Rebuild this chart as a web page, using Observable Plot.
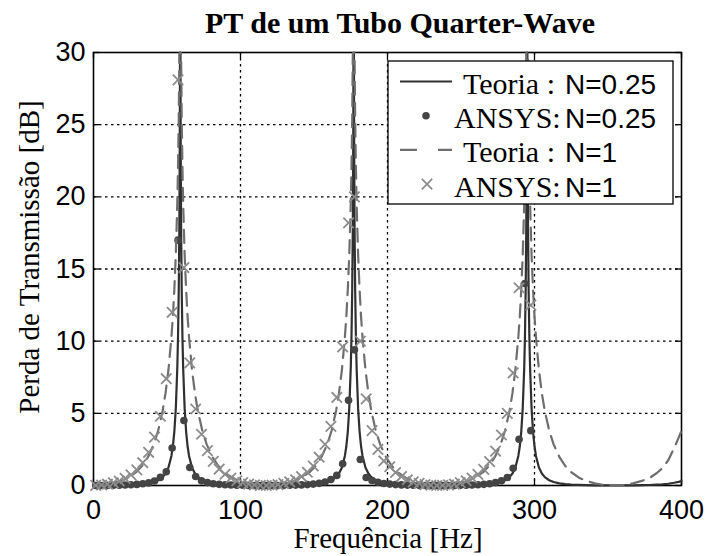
<!DOCTYPE html>
<html>
<head>
<meta charset="utf-8">
<script src="https://cdn.jsdelivr.net/npm/d3@7"></script>
<script src="https://cdn.jsdelivr.net/npm/@observablehq/plot@0.6"></script>
<style>
  html, body { margin: 0; padding: 0; background: #fff; }
  svg { display: block; }
</style>
</head>
<body>
<div id="chart"></div>
<script>
// ---------- data ----------
const titleText = "PT de um Tubo Quarter-Wave";
const xLabel = "Frequência [Hz]";
const yLabel = "Perda de Transmissão [dB]";

const xTicks = [0, 100, 200, 300, 400];
const yTicks = [0, 5, 10, 15, 20, 25, 30];

// Theory curves (Hz, dB)
const theoryFreq = [
  0, 7, 13, 19, 24, 29, 33, 37, 41, 44, 47, 49, 51, 53, 54, 55, 56, 57, 57.5, 58, 58.4, 58.7, 58.85, 59,
  59.15, 59.3, 59.6, 60, 60.5, 61, 62, 63, 64, 65, 67, 69, 71, 74, 77, 81, 85, 89, 94, 99, 105, 111, 118,
  125, 131, 137, 142, 147, 151, 155, 159, 162, 165, 167, 169, 171, 172, 173, 174, 175, 175.5, 176, 176.4, 176.7, 176.85, 177,
  177.15, 177.3, 177.6, 178, 178.5, 179, 180, 181, 182, 183, 185, 187, 189, 192, 195, 199, 203, 207, 212, 217, 223, 229, 236,
  243, 249, 255, 260, 265, 269, 273, 277, 280, 283, 285, 287, 289, 290, 291, 292, 293, 293.5, 294, 294.4, 294.7, 294.85, 295,
  295.15, 295.3, 295.6, 296, 296.5, 297, 298, 299, 300, 301, 303, 305, 307, 310, 313, 317, 321, 325, 330, 335, 341, 347, 354,
  361, 367, 373, 378, 383, 387, 391, 395, 398, 400
];
const theoryN025 = [
  0, 0.002, 0.009, 0.021, 0.037, 0.064, 0.097, 0.15, 0.24, 0.365, 0.58, 0.83, 1.25, 2.05, 2.72, 3.74, 5.36, 8.13, 10.3, 13.6, 17.9, 23.9, 29.9, 60,
  29.9, 23.9, 17.9, 13.6, 10.3, 8.13, 5.36, 3.74, 2.72, 2.05, 1.25, 0.83, 0.58, 0.365, 0.24, 0.15, 0.097, 0.064, 0.037, 0.021, 0.009, 0.002, 0,
  0.002, 0.009, 0.021, 0.037, 0.064, 0.097, 0.15, 0.24, 0.365, 0.58, 0.83, 1.25, 2.05, 2.72, 3.74, 5.36, 8.13, 10.3, 13.6, 17.9, 23.9, 29.9, 60,
  29.9, 23.9, 17.9, 13.6, 10.3, 8.13, 5.36, 3.74, 2.72, 2.05, 1.25, 0.83, 0.58, 0.365, 0.24, 0.15, 0.097, 0.064, 0.037, 0.021, 0.009, 0.002, 0,
  0.002, 0.009, 0.021, 0.037, 0.064, 0.097, 0.15, 0.24, 0.365, 0.58, 0.83, 1.25, 2.05, 2.72, 3.74, 5.36, 8.13, 10.3, 13.6, 17.9, 23.9, 29.9, 60,
  29.9, 23.9, 17.9, 13.6, 10.3, 8.13, 5.36, 3.74, 2.72, 2.05, 1.25, 0.83, 0.58, 0.365, 0.24, 0.15, 0.097, 0.064, 0.037, 0.021, 0.009, 0.002, 0,
  0.002, 0.009, 0.021, 0.033, 0.055, 0.08, 0.12, 0.19, 0.25, 0.3
];
const theoryN1 = [
  0, 0.037, 0.15, 0.32, 0.56, 0.92, 1.35, 1.96, 2.85, 3.81, 5.16, 6.4, 8.02, 10.27, 11.7, 13.6, 16.0, 19.5, 22.0, 25.5, 29.9, 35.9, 41.95, 60,
  41.95, 35.9, 29.9, 25.5, 22.0, 19.5, 16.0, 13.6, 11.7, 10.27, 8.02, 6.4, 5.16, 3.81, 2.85, 1.96, 1.35, 0.92, 0.56, 0.32, 0.15, 0.037, 0,
  0.037, 0.15, 0.32, 0.56, 0.92, 1.35, 1.96, 2.85, 3.81, 5.16, 6.4, 8.02, 10.27, 11.7, 13.6, 16.0, 19.5, 22.0, 25.5, 29.9, 35.9, 41.95, 60,
  41.95, 35.9, 29.9, 25.5, 22.0, 19.5, 16.0, 13.6, 11.7, 10.27, 8.02, 6.4, 5.16, 3.81, 2.85, 1.96, 1.35, 0.92, 0.56, 0.32, 0.15, 0.037, 0,
  0.037, 0.15, 0.32, 0.56, 0.92, 1.35, 1.96, 2.85, 3.81, 5.16, 6.4, 8.02, 10.27, 11.7, 13.6, 16.0, 19.5, 22.0, 25.5, 29.9, 35.9, 41.95, 60,
  41.95, 35.9, 29.9, 25.5, 22.0, 19.5, 16.0, 13.6, 11.7, 10.27, 8.02, 6.4, 5.16, 3.81, 2.85, 1.96, 1.35, 0.92, 0.56, 0.32, 0.15, 0.037, 0,
  0.037, 0.15, 0.32, 0.5, 0.85, 1.2, 1.75, 2.6, 3.3, 3.8
];

// ANSYS simulation points (Hz, dB)
const ansysFreq = [
  1.5, 5.5, 9.5, 13.5, 17.5, 21.5, 25.5, 29.5, 33.5, 37.5,
  41.5, 45.5, 49.5, 53.5, 57.5, 61.5, 65.5, 69.5, 73.5, 77.5,
  81.5, 85.5, 89.5, 93.5, 97.5, 101.5, 105.5, 109.5, 113.5, 117.5,
  121.5, 125.5, 129.5, 133.5, 137.5, 141.5, 145.5, 149.5, 153.5, 157.5,
  161.5, 165.5, 169.5, 173.5, 177.5, 181.5, 185.5, 189.5, 193.5, 197.5,
  201.5, 205.5, 209.5, 213.5, 217.5, 221.5, 225.5, 229.5, 233.5, 237.5,
  241.5, 245.5, 249.5, 253.5, 257.5, 261.5, 265.5, 269.5, 273.5, 277.5,
  281.5, 285.5, 289.5, 293.5, 297.5
];
const ansysN025 = [
  0, 0.002, 0.006, 0.012, 0.02, 0.033, 0.05, 0.077, 0.12, 0.18,
  0.31, 0.56, 0.95, 2.6, 17.0, 4.5, 1.25, 0.62, 0.33, 0.2,
  0.125, 0.08, 0.053, 0.034, 0.022, 0.013, 0.006, 0.002, 0, 0,
  0.001, 0.004, 0.009, 0.016, 0.026, 0.041, 0.064, 0.097, 0.15, 0.24,
  0.42, 0.7, 1.5, 5.9, 9.4, 1.8, 0.55, 0.35, 0.22, 0.14,
  0.097, 0.064, 0.041, 0.026, 0.016, 0.009, 0.004, 0.001, 0, 0,
  0.002, 0.006, 0.012, 0.021, 0.034, 0.053, 0.08, 0.125, 0.2, 0.33,
  0.55, 1.2, 3.2, 14.0, 3.8
];
const ansysN1 = [
  0.01, 0.035, 0.09, 0.18, 0.31, 0.49, 0.74, 1.08, 1.58, 2.3,
  3.35, 4.8, 7.4, 12.0, 28.1, 15.1, 8.5, 5.3, 3.55, 2.42,
  1.67, 1.14, 0.78, 0.52, 0.33, 0.2, 0.1, 0.04, 0.008, 0,
  0.02, 0.064, 0.15, 0.25, 0.4, 0.62, 0.92, 1.35, 1.96, 2.85,
  4.1, 6.1, 9.6, 18.2, 20.0, 10.0, 6.0, 3.8, 2.5, 1.7,
  1.3, 0.9, 0.62, 0.4, 0.25, 0.15, 0.064, 0.02, 0, 0.008,
  0.04, 0.1, 0.2, 0.33, 0.52, 0.77, 1.12, 1.65, 2.38, 3.5,
  5.0, 7.8, 13.7, 27.0, 12.5
];

const legendItems = [
  {serif: "Teoria : ", sans: "N=0.25", kind: "solid"},
  {serif: "ANSYS:", sans: "N=0.25", kind: "dot"},
  {serif: "Teoria : ", sans: "N=1", kind: "dash"},
  {serif: "ANSYS:", sans: "N=1", kind: "cross"}
];

// ---------- build tables ----------
const theory = theoryFreq.map((f, i) => ({f, n025: theoryN025[i], n1: theoryN1[i]}));
const ansys = ansysFreq.map((f, i) => ({f, n025: ansysN025[i], n1: ansysN1[i]}));

const C_SOLID = "#303030", C_DOT = "#444444", C_DASH = "#6e6e6e", C_CROSS = "#8c8c8c";
const gridStyle = {stroke: "#000", strokeWidth: 1.3, strokeDasharray: "2.5,3.5", strokeOpacity: 1};

const chart = Plot.plot({
  width: 708,
  height: 556,
  marginLeft: 93,
  marginRight: 27,
  marginTop: 52,
  marginBottom: 71,
  style: {fontFamily: "'Liberation Sans', Arial, sans-serif", fontSize: "27px", color: "#000", background: "#fff", overflow: "visible"},
  x: {domain: [0, 400], ticks: xTicks, label: null},
  y: {domain: [0, 30], ticks: yTicks, label: null, clamp: true},
  marks: [
    Plot.ruleX(xTicks.slice(1, -1), gridStyle),
    Plot.ruleY(yTicks.slice(1, -1), gridStyle),
    // inward tick marks on all four sides
    Plot.ruleX(xTicks, {y1: 0, y2: 0, insetTop: -6, stroke: "#000", strokeWidth: 1.3}),
    Plot.ruleX(xTicks, {y1: 30, y2: 30, insetBottom: -6, stroke: "#000", strokeWidth: 1.3}),
    Plot.ruleY(yTicks, {x1: 0, x2: 0, insetRight: -6, stroke: "#000", strokeWidth: 1.3}),
    Plot.ruleY(yTicks, {x1: 400, x2: 400, insetLeft: -6, stroke: "#000", strokeWidth: 1.3}),
    Plot.axisX({ticks: xTicks, tickSize: 0, tickPadding: 14, label: null}),
    Plot.axisY({ticks: yTicks, tickSize: 0, tickPadding: 8, label: null}),
    Plot.frame({stroke: "#000", strokeWidth: 1.6}),
    Plot.line(theory, {x: "f", y: "n025", stroke: C_SOLID, strokeWidth: 2.2}),
    Plot.dot(ansys, {x: "f", y: "n025", r: 3.8, fill: C_DOT, stroke: null}),
    Plot.line(theory, {x: "f", y: "n1", stroke: C_DASH, strokeWidth: 2.2, strokeDasharray: "13,8"}),
    Plot.dot(ansys, {x: "f", y: "n1", symbol: "times", r: 4.8, stroke: C_CROSS, strokeWidth: 1.8})
  ]
});

// ---------- title, axis labels, legend ----------
const svg = d3.select(chart);
const serif = "'Liberation Serif', 'Times New Roman', serif";
const sans = "'Liberation Sans', Arial, sans-serif";

svg.append("text")
  .attr("x", 400).attr("y", 33)
  .attr("text-anchor", "middle")
  .attr("font-family", serif).attr("font-weight", "bold").attr("font-size", 30)
  .attr("fill", "#000")
  .text(titleText);

svg.append("text")
  .attr("x", 388).attr("y", 548)
  .attr("text-anchor", "middle")
  .attr("font-family", serif).attr("font-size", 29)
  .attr("fill", "#000")
  .text(xLabel);

svg.append("text")
  .attr("transform", "translate(39,257) rotate(-90)")
  .attr("text-anchor", "middle")
  .attr("font-family", serif).attr("font-size", 29)
  .attr("fill", "#000")
  .text(yLabel);

const lg = svg.append("g").attr("text-anchor", "start");
lg.append("rect")
  .attr("x", 388).attr("y", 61).attr("width", 285).attr("height", 143)
  .attr("fill", "#fff").attr("stroke", "#000").attr("stroke-width", 1.3);

legendItems.forEach((it, i) => {
  const base = 94 + i * 34.2;
  const sy = base - 12.5;
  if (it.kind === "solid" || it.kind === "dash") {
    lg.append("line")
      .attr("x1", 400).attr("x2", 452).attr("y1", sy).attr("y2", sy)
      .attr("stroke", it.kind === "solid" ? C_SOLID : C_DASH)
      .attr("stroke-width", 2.2)
      .attr("stroke-dasharray", it.kind === "dash" ? "17,21" : null);
  } else if (it.kind === "dot") {
    lg.append("circle").attr("cx", 426).attr("cy", sy).attr("r", 3.8).attr("fill", C_DOT);
  } else {
    lg.append("path")
      .attr("transform", `translate(427,${sy})`)
      .attr("d", d3.symbol(d3.symbolTimes, Math.PI * 4.8 * 4.8)())
      .attr("fill", "none").attr("stroke", C_CROSS).attr("stroke-width", 1.8);
  }
  lg.append("text")
    .attr("x", it.serif.startsWith("Teoria") ? 463 : 454).attr("y", base)
    .attr("text-anchor", "start")
    .attr("font-family", serif).attr("font-size", 30).attr("fill", "#000")
    .style("white-space", "pre")
    .text(it.serif);
  lg.append("text")
    .attr("x", 565).attr("y", base)
    .attr("text-anchor", "start")
    .attr("font-family", sans).attr("font-size", 28).attr("fill", "#000")
    .text(it.sans);
});

document.getElementById("chart").appendChild(chart);
</script>
</body>
</html>
